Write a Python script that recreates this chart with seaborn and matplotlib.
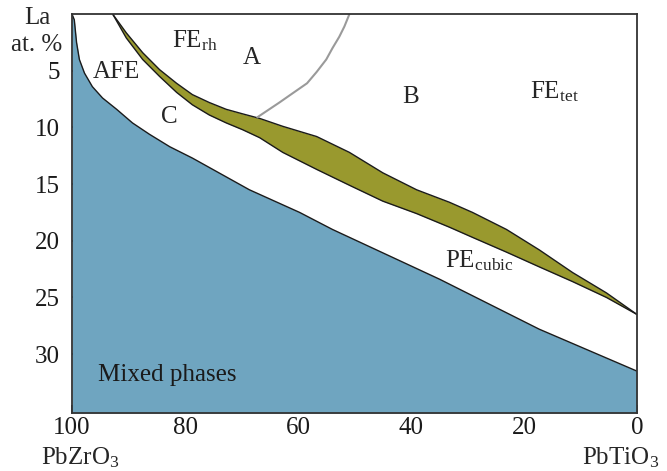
import numpy as np
import pandas as pd
from matplotlib import pyplot as plt
import seaborn as sns

# x: % PbZrO3 (100 = PbZrO3, 0 = PbTiO3), y: La content in at. %
blue_x = [100, 99.6, 99.2, 98.7, 97.8, 96.4, 94.6, 92.1, 89.3, 86.3, 82.7, 78.7,
          68.6, 59.7, 53.9, 34.9, 17.3, 0]
blue_y = [0, 0.5, 2.5, 4.0, 5.2, 6.4, 7.4, 8.4, 9.6, 10.6, 11.7, 12.7,
          15.5, 17.5, 19.0, 23.4, 27.8, 31.5]

band_x = [92.8, 90.4, 87.5, 84.5, 81.5, 78.7, 75.7, 72.7, 69.8, 66.8, 62.7, 56.7,
          50.9, 45.0, 39.0, 33.2, 29.1, 23.1, 17.3, 11.4, 5.4, 0]
band_top = [0, 1.65, 3.4, 4.9, 6.1, 7.1, 7.8, 8.4, 8.8, 9.2, 9.9, 10.8,
            12.2, 14.0, 15.5, 16.6, 17.5, 19.0, 20.8, 22.8, 24.6, 26.5]
band_bot = [0, 2.1, 4.0, 5.5, 6.9, 8.0, 8.9, 9.6, 10.2, 10.9, 12.2, 13.7,
            15.1, 16.5, 17.6, 18.8, 19.7, 21.0, 22.3, 23.6, 25.0, 26.5]

ab_x = [50.9, 51.8, 52.7, 53.9, 55.0, 56.7, 58.4, 61.0, 63.3, 65.4, 67.2]
ab_y = [0, 1.1, 2.0, 3.0, 4.0, 5.1, 6.1, 7.0, 7.8, 8.5, 9.1]

x_ticks = [100, 80, 60, 40, 20, 0]
y_ticks = [5, 10, 15, 20, 25, 30]

BLUE = "#6fa5c0"
OLIVE = "#99992e"
YMAX = 35.2

sns.set_style("ticks")
plt.rcParams['font.family'] = ['Liberation Serif', 'DejaVu Serif']
plt.rcParams['mathtext.fontset'] = 'stix'

fig = plt.figure(figsize=(6.67, 4.71), dpi=100)
ax = fig.add_axes([0.108, 0.123, 0.847, 0.847])

blue = pd.DataFrame({"x": blue_x, "y": blue_y})
band = pd.DataFrame({"x": band_x, "top": band_top, "bot": band_bot})
ab = pd.DataFrame({"x": ab_x, "y": ab_y})

ax.fill_between(blue["x"], blue["y"], YMAX, color=BLUE, lw=0)
sns.lineplot(data=blue, x="x", y="y", sort=False, color="#1a1a1a", lw=1.0, ax=ax)

ax.fill_between(band["x"], band["top"], band["bot"], color=OLIVE, lw=0)
sns.lineplot(data=band, x="x", y="top", sort=False, color="#1a1a1a", lw=1.0, ax=ax)
sns.lineplot(data=band, x="x", y="bot", sort=False, color="#1a1a1a", lw=1.0, ax=ax)

sns.lineplot(data=ab, x="x", y="y", sort=False, color="#9a9a9a", lw=1.5, ax=ax)

ax.set_xlim(100, 0)
ax.set_ylim(YMAX, 0)
ax.set_xticks(x_ticks)
ax.set_xticklabels([str(t) for t in x_ticks])
ax.set_yticks(y_ticks)
ax.set_yticklabels([str(t) for t in y_ticks])
ax.tick_params(direction="in", length=6, width=1.2, labelsize=18, colors="#1a1a1a")
ax.tick_params(axis="x", pad=3)
ax.tick_params(axis="y", pad=9)
ax.set_xlabel("")
ax.set_ylabel("")
for s in ax.spines.values():
    s.set_linewidth(1.3)
    s.set_color("#333333")

fs = 18
ax.text(92.1, 5.1, "AFE", fontsize=fs, ha="center", va="center")
ax.text(78.3, 2.4, r"FE$_{\mathregular{rh}}$", fontsize=fs, ha="center", va="center")
ax.text(68.2, 3.85, "A", fontsize=fs, ha="center", va="center")
ax.text(82.7, 9.1, "C", fontsize=fs, ha="center", va="center")
ax.text(40.1, 7.3, "B", fontsize=fs, ha="center", va="center")
ax.text(14.6, 6.9, r"FE$_{\mathregular{tet}}$", fontsize=fs, ha="center", va="center")
ax.text(27.9, 21.8, r"PE$_{\mathregular{cubic}}$", fontsize=fs, ha="center", va="center")
ax.text(83.1, 31.8, "Mixed phases", fontsize=fs, ha="center", va="center", color="#1a1a1a")

fig.text(0.056, 0.962, "La", fontsize=fs, ha="center", va="center")
fig.text(0.094, 0.905, "at. %", fontsize=fs, ha="right", va="center")
fig.text(0.121, 0.028, r"PbZrO$_{\mathregular{3}}$", fontsize=fs, ha="center", va="center")
fig.text(0.93, 0.028, r"PbTiO$_{\mathregular{3}}$", fontsize=fs, ha="center", va="center")

plt.savefig("out.png", dpi=100)
